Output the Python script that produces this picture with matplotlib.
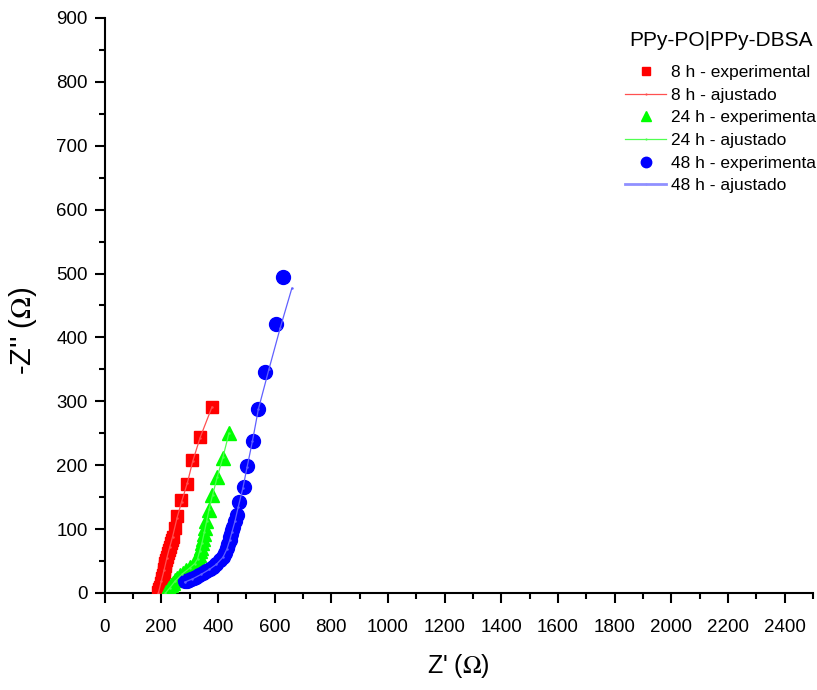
import matplotlib
matplotlib.use("Agg")
import matplotlib.pyplot as plt
from matplotlib.ticker import MultipleLocator

plt.rcParams['font.family'] = ['Liberation Sans', 'DejaVu Sans']
plt.rcParams['mathtext.fontset'] = 'stix'

# Nyquist data: Z' (ohm) vs -Z'' (ohm)
exp_8h_x = [189, 192, 195, 198, 201, 203, 206, 209, 211, 213, 215, 218, 221, 224, 228,
            231, 234, 237, 240, 247, 257, 271, 292, 310, 336, 379]
exp_8h_y = [2, 6, 10, 15, 19, 23, 28, 33, 38, 43, 47, 52, 57, 62, 67,
            72, 78, 83, 88, 102, 121, 145, 170, 208, 244, 291]

fit_8h_x = [190, 200, 210, 220, 230, 240, 256, 272, 292, 311, 337, 379]
fit_8h_y = [0, 18, 36, 55, 72, 88, 118, 143, 172, 206, 243, 291]

exp_24h_x = [218, 224, 229, 234, 240, 248, 256, 265, 277, 289, 301, 312, 320, 326, 330,
             333, 336, 340, 344, 347, 351, 355, 359, 368, 379, 398, 418, 439]
exp_24h_y = [1, 4, 8, 12, 16, 20, 24, 28, 32, 36, 40, 44, 47, 50, 54,
             59, 65, 71, 78, 85, 93, 102, 112, 130, 153, 181, 212, 250]

fit_24h_x = [215, 230, 250, 275, 300, 318, 328, 336, 344, 352, 360, 369, 381, 398, 418, 439]
fit_24h_y = [0, 8, 19, 30, 39, 46, 53, 66, 79, 95, 112, 131, 153, 182, 213, 250]

exp_48h_x = [283, 290, 298, 306, 315, 324, 335, 347, 359, 371, 383, 395, 407, 418, 425,
             432, 437, 441, 444, 447, 451, 455, 461, 467, 476, 491, 504, 523, 543, 565,
             605, 631]
exp_48h_y = [18, 19, 20, 22, 23, 25, 28, 31, 34, 37, 41, 45, 51, 57, 63,
             70, 76, 83, 88, 93, 98, 104, 113, 122, 142, 166, 198, 238, 288, 346,
             421, 495]

fit_48h_x = [283, 310, 340, 370, 395, 418, 432, 442, 450, 460, 472, 488, 503, 522, 543,
             580, 620, 661]
fit_48h_y = [17, 22, 29, 37, 45, 56, 69, 83, 96, 112, 135, 164, 197, 238, 288,
             350, 415, 477]

x_ticks = list(range(0, 2401, 200))

fig = plt.figure(figsize=(8.17, 6.90), dpi=100)
ax = fig.add_axes([0.128, 0.1406, 0.867, 0.8334])

ax.plot(exp_8h_x, exp_8h_y, linestyle='none', marker='s', ms=8.5,
        color='#ff0000', label='8 h - experimental', zorder=3)
ax.plot(fit_8h_x, fit_8h_y, '-', lw=0.9, color='#ff5050', marker='.', ms=1.5,
        label='8 h - ajustado', zorder=4)
ax.plot(exp_24h_x, exp_24h_y, linestyle='none', marker='^', ms=10,
        color='#00ff00', label='24 h - experimenta', zorder=3)
ax.plot(fit_24h_x, fit_24h_y, '-', lw=0.9, color='#50ff50', marker='.', ms=1.5,
        label='24 h - ajustado', zorder=4)
ax.plot(exp_48h_x, exp_48h_y, linestyle='none', marker='o', ms=10,
        color='#0000ff', label='48 h - experimenta', zorder=3)
ax.plot(fit_48h_x, fit_48h_y, '-', lw=0.9, color='#6060ff', marker='.', ms=1.5,
        label='48 h - ajustado', zorder=4)

ax.set_xlim(0, 2500)
ax.set_ylim(0, 900)
ax.xaxis.set_minor_locator(MultipleLocator(100))
ax.yaxis.set_major_locator(MultipleLocator(100))
ax.yaxis.set_minor_locator(MultipleLocator(50))
ax.set_xticks(x_ticks)
ax.set_xticklabels([str(v) for v in x_ticks])

for s in ('top', 'right'):
    ax.spines[s].set_visible(False)
for s in ('left', 'bottom'):
    ax.spines[s].set_linewidth(1.5)

ax.tick_params(which='major', direction='out', length=7, width=1.5,
               labelsize=13.5, pad=5)
ax.tick_params(axis='x', which='major', pad=12)
ax.tick_params(which='minor', direction='out', length=4, width=1.5)

ax.set_xlabel("Z' ($\\Omega$)", fontsize=18, labelpad=11)
fig.text(23 / 817, 1 - 331 / 690, "-Z'' ($\\Omega$)", fontsize=21,
         rotation=90, ha='center', va='center')

leg = ax.legend(loc='upper right', bbox_to_anchor=(825 / 817, 1 - 22 / 690),
                bbox_transform=fig.transFigure, frameon=False, borderpad=0,
                title='PPy-PO|PPy-DBSA', title_fontsize=15, fontsize=12.5,
                handlelength=2.35, handletextpad=0.3, labelspacing=0.43,
                markerscale=0.75)
leg._legend_box.sep = 11
# the 48 h fit handle is drawn a bit heavier in the key
leg.get_lines()[5].set_linewidth(2.0)
leg.get_lines()[5].set_color('#9090ff')

fig.savefig('out.png', dpi=100)
